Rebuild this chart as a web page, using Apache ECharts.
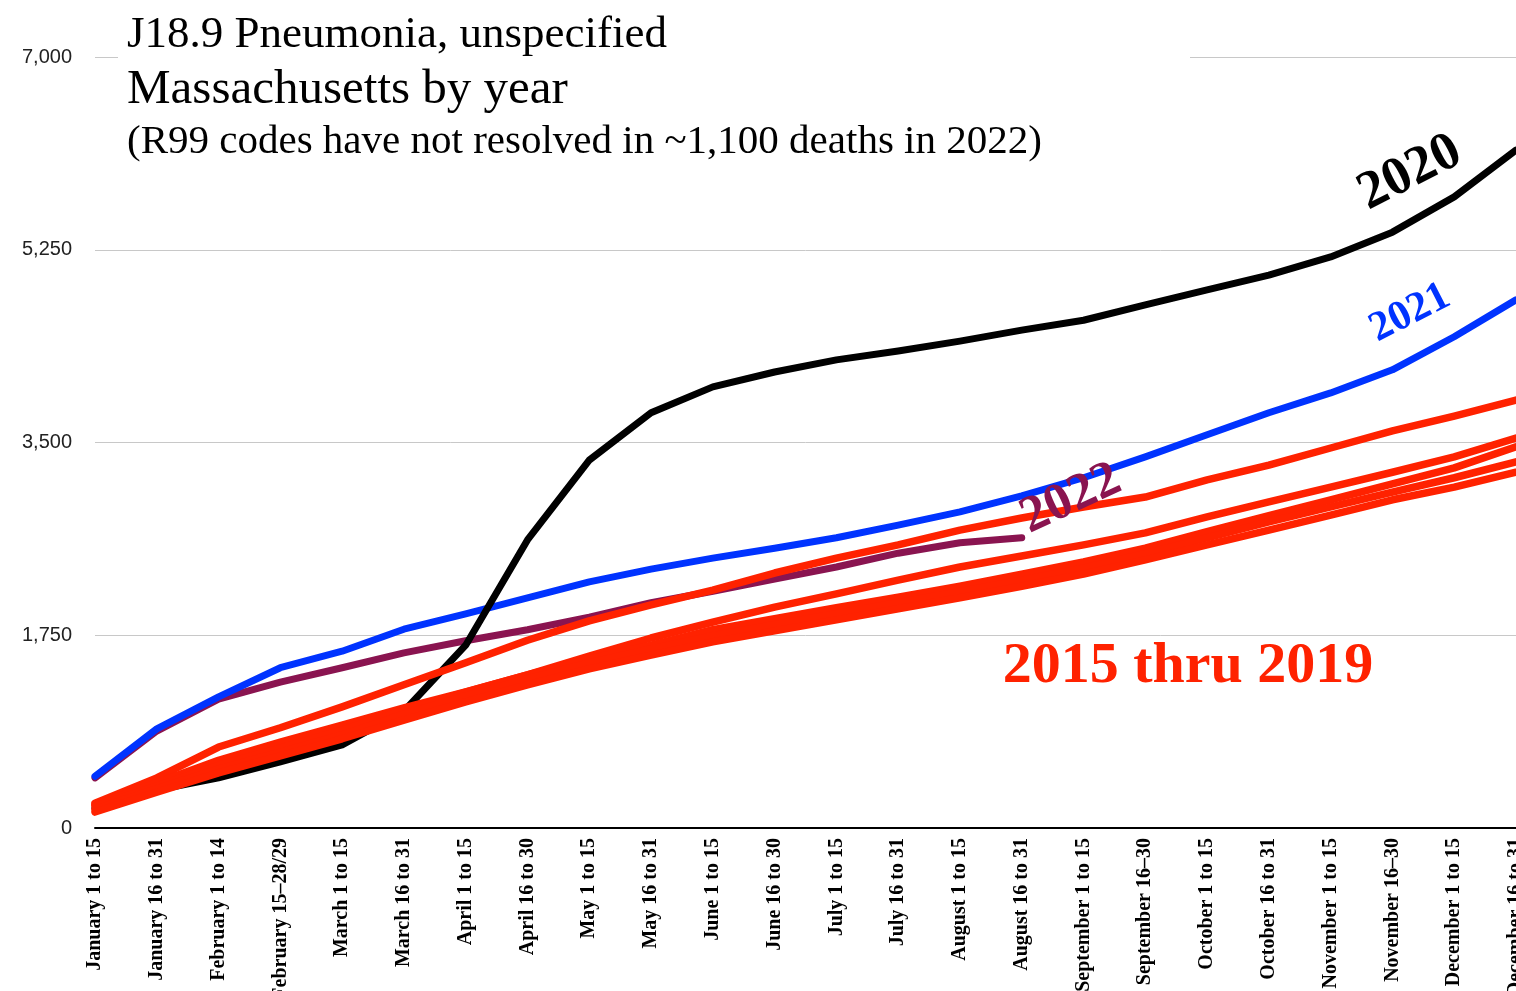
<!DOCTYPE html>
<html>
<head>
<meta charset="utf-8">
<script src="https://cdn.jsdelivr.net/npm/echarts@6/dist/echarts.min.js"></script>
<style>
  html, body { margin: 0; padding: 0; background: #fff; }
  #chart { width: 1516px; height: 991px; }
</style>
</head>
<body>
<div id="chart"></div>
<script>
const periods = [
  'January 1 to 15', 'January 16 to 31', 'February 1 to 14', 'February 15–28/29',
  'March 1 to 15', 'March 16 to 31', 'April 1 to 15', 'April 16 to 30',
  'May 1 to 15', 'May 16 to 31', 'June 1 to 15', 'June 16 to 30',
  'July 1 to 15', 'July 16 to 31', 'August 1 to 15', 'August 16 to 31',
  'September 1 to 15', 'September 16–30', 'October 1 to 15', 'October 16 to 31',
  'November 1 to 15', 'November 16–30', 'December 1 to 15', 'December 16 to 31'
]

// cumulative deaths, J18.9
const deaths2015 = [225, 455, 735, 910, 1100, 1300, 1500, 1705, 1880, 2025, 2160, 2315, 2450, 2570, 2705, 2815, 2915, 3005, 3160, 3295, 3450, 3605, 3740, 3885]
const deaths2016 = [210, 410, 615, 780, 935, 1090, 1235, 1390, 1560, 1725, 1870, 2005, 2125, 2250, 2370, 2470, 2570, 2680, 2825, 2960, 3095, 3230, 3370, 3540]
const deaths2017 = [200, 380, 570, 725, 890, 1070, 1235, 1390, 1535, 1660, 1800, 1900, 2000, 2095, 2195, 2305, 2415, 2540, 2690, 2835, 2980, 3125, 3270, 3460]
const deaths2018 = [170, 355, 535, 690, 845, 1035, 1200, 1355, 1500, 1625, 1745, 1845, 1945, 2045, 2145, 2250, 2360, 2490, 2635, 2780, 2915, 3050, 3180, 3325]
const deaths2019 = [145, 325, 500, 655, 810, 980, 1145, 1300, 1445, 1570, 1690, 1790, 1890, 1990, 2090, 2195, 2305, 2435, 2570, 2705, 2840, 2980, 3095, 3230]
const deaths2020 = [180, 345, 455, 600, 755, 1060, 1660, 2615, 3340, 3770, 4005, 4140, 4250, 4330, 4420, 4520, 4610, 4750, 4885, 5020, 5185, 5410, 5730, 6155]
const deaths2021 = [470, 900, 1190, 1455, 1605, 1805, 1945, 2090, 2235, 2350, 2450, 2540, 2635, 2750, 2870, 3015, 3180, 3370, 3570, 3770, 3950, 4160, 4460, 4795]
const deaths2022 = [455, 880, 1170, 1325, 1455, 1590, 1700, 1800, 1915, 2045, 2150, 2260, 2370, 2495, 2590, 2635]

const RED = '#ff2200'
const serif = '"Liberation Serif", "Times New Roman", serif'

function line(name, data, color, width) {
  return {
    name,
    type: 'line',
    data,
    symbol: 'none',
    smooth: false,
    lineStyle: { color, width, cap: 'round', join: 'round' },
    emphasis: { disabled: true },
  }
}

const chart = echarts.init(document.getElementById('chart'))

chart.setOption({
  backgroundColor: '#fff',
  animation: false,
  grid: { left: 95, right: 0, top: 57, bottom: 163, containLabel: false, outerBoundsMode: 'none' },
  xAxis: {
    type: 'category',
    data: periods,
    boundaryGap: false,
    axisLine: { lineStyle: { color: '#000', width: 2 } },
    axisTick: { show: false },
    axisLabel: {
      interval: 0,
      rotate: 90,
      margin: 10,
      color: '#000',
      fontFamily: serif,
      fontWeight: 'bold',
      fontSize: 20,
      hideOverlap: false,
    },
  },
  yAxis: {
    type: 'value',
    min: 0,
    max: 7000,
    interval: 1750,
    axisLine: { show: false },
    axisTick: { show: false },
    axisLabel: {
      margin: 23,
      color: '#222',
      fontFamily: 'Arial, "Liberation Sans", sans-serif',
      fontSize: 20,
      formatter: (v) => v.toLocaleString('en-US'),
    },
    splitLine: { lineStyle: { color: '#c8c8c8', width: 1 } },
  },
  series: [
    line('2022', deaths2022, '#8a1450', 7),
    line('2021', deaths2021, '#0033ff', 7),
    line('2020', deaths2020, '#000', 7),
    line('2015', deaths2015, RED, 7.5),
    line('2016', deaths2016, RED, 7.5),
    line('2017', deaths2017, RED, 7.5),
    line('2018', deaths2018, RED, 7.5),
    line('2019', deaths2019, RED, 7.5),
  ],
  graphic: [
    {
      type: 'rect',
      z: 10,
      shape: { x: 118, y: 0, width: 1072, height: 168 },
      style: { fill: '#fff' },
    },
    {
      type: 'text', z: 11, left: 127, top: 13,
      style: { text: 'J18.9 Pneumonia, unspecified', font: '45px ' + serif, fill: '#000' },
    },
    {
      type: 'text', z: 11, left: 127, top: 66,
      style: { text: 'Massachusetts by year', font: '49px ' + serif, fill: '#000' },
    },
    {
      type: 'text', z: 11, left: 127, top: 122,
      style: { text: '(R99 codes have not resolved in ~1,100 deaths in 2022)', font: '41px ' + serif, fill: '#000' },
    },
    {
      type: 'text', z: 11, x: 1410, y: 173, rotation: 27 * Math.PI / 180,
      style: { text: '2020', font: 'bold 54px ' + serif, fill: '#000', align: 'center', verticalAlign: 'middle' },
    },
    {
      type: 'text', z: 11, x: 1410, y: 313, rotation: 27 * Math.PI / 180,
      style: { text: '2021', font: 'bold 42px ' + serif, fill: '#0033ff', align: 'center', verticalAlign: 'middle' },
    },
    {
      type: 'text', z: 11, x: 1071, y: 499, rotation: 25 * Math.PI / 180,
      style: { text: '2022', font: 'bold 52px ' + serif, fill: '#8a1450', align: 'center', verticalAlign: 'middle' },
    },
    {
      type: 'text', z: 11, x: 1188, y: 667,
      style: { text: '2015 thru 2019', font: 'bold 58px ' + serif, fill: RED, align: 'center', verticalAlign: 'middle' },
    },
  ],
})
</script>
</body>
</html>
